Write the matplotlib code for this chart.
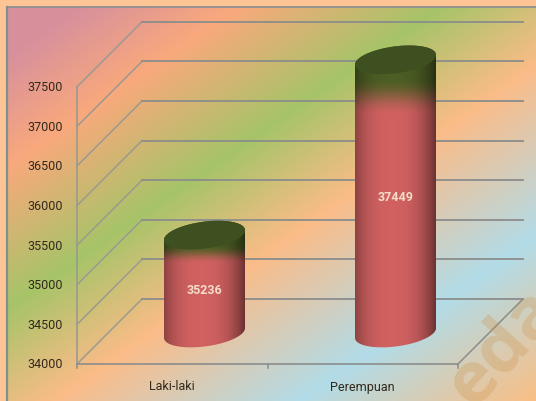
import numpy as np
import matplotlib
matplotlib.use("Agg")
import matplotlib.pyplot as plt
from matplotlib.colors import LinearSegmentedColormap
from matplotlib.patches import PathPatch, Polygon
from matplotlib.path import Path

categories = ["Laki-laki", "Perempuan"]
values = [35236, 37449]
y_ticks = [34000, 34500, 35000, 35500, 36000, 36500, 37000, 37500]

W, H = 536, 401
PX_PER_UNIT = 39.6 / 500
BASE_PX = 364


def to_val(py):
    return 34000 + (BASE_PX - py) / PX_PER_UNIT


def dy(px):
    return px / PX_PER_UNIT


font = "Roboto"
size = 9

fig = plt.figure(figsize=(W / 100, H / 100), dpi=100, facecolor="#fdc596")
ax = fig.add_axes([0, 0, 1, 1])
ax.set_xlim(0, W)
ax.set_ylim(to_val(H), to_val(0))
ax.axis("off")

# Background panel, diagonal bands
bg_cmap = LinearSegmentedColormap.from_list("bg", [
    (0.00, "#d88f9e"), (0.08, "#d8909c"), (0.22, "#f9a97c"), (0.40, "#a6c468"),
    (0.56, "#fbbc88"), (0.78, "#b2dce8"), (1.00, "#fdbd80")], N=1024)
xx, yy = np.meshgrid(np.arange(W), np.arange(H))
t = (xx * 0.57 + yy * 0.82) / 640
ax.imshow(bg_cmap(np.clip(t, 0, 1))[7:, 7:], extent=(7, W, to_val(H), to_val(7)),
          aspect="auto", zorder=0, interpolation="bilinear")
ax.plot([6.5, W], [to_val(6.5)] * 2, color="#8f9090", lw=1.3, zorder=1)
ax.plot([6.5, 6.5], [to_val(6.5), to_val(H)], color="#7f9090", lw=1.6, zorder=1)

# Watermark
ax.text(503, to_val(347), "eda", color="#c98a3c", alpha=0.25, fontsize=52, fontweight="bold",
        rotation=48, rotation_mode="anchor", ha="center", va="center", family="Open Sans",
        zorder=2.5, clip_on=True)

# 3D frame
depth_x, depth_y = 65, 65
left, right = 77, 458
line_c = "#8b8d8c"
for v in y_ticks:
    back = v + dy(depth_y)
    ax.plot([left, left + depth_x], [v, back], color="#9a9a90", lw=1.1, zorder=2)
    ax.plot([left + depth_x, right + depth_x], [back, back], color=line_c, lw=1.3, zorder=2)
ax.plot([left, left], [34000, 37500], color="#9a9a90", lw=1.2, zorder=2)
ax.plot([left, right], [34000, 34000], color=line_c, lw=1.2, zorder=2)
ax.plot([right, right + depth_x], [34000, 34000 + dy(depth_y)], color=line_c, lw=1.1, zorder=2)
for x in [left, (left + right) / 2, right]:
    ax.plot([x, x], [34000, 34000 - dy(4)], color=line_c, lw=1.1, zorder=2)

for v in y_ticks:
    ax.text(63, v - dy(1), str(v), ha="right", va="center", family=font, fontsize=size, color="#33281c")
label_x = [172, 362.5]
for x, c in zip(label_x, categories):
    ax.text(x, to_val(387), c, ha="center", va="center", family=font, fontsize=size, color="#33281c")

# Cylinders
centers = [204.5, 395.5]
half_w = 40.5
semi_b = 13.5
shear = 0.12
fade_px = [(10, 28), (18, 55)]  # green to red, px below the top centre
red = np.array([0.82, 0.38, 0.38])
green = np.array([0.30, 0.37, 0.14])
shift = dy(31)


def ellipse(cx, val, a, b):
    return (cx + half_w * np.cos(a), val + dy(b * np.sin(a) + shear * half_w * np.cos(a)))


for cx, v, fade in zip(centers, values, fade_px):
    top = v + shift
    bot = 34000 + shift
    a1 = np.linspace(0, np.pi, 60)
    a2 = np.linspace(np.pi, 2 * np.pi, 60)
    tx, ty = ellipse(cx, top, a1, semi_b)
    bx, by = ellipse(cx, bot, a2, semi_b)
    side = np.column_stack([np.r_[tx, bx], np.r_[ty, by]])

    # shaded side: dark at the edges, light just left of middle
    py = np.arange(0, H)
    px = np.linspace(-1, 1, 81)
    rows = BASE_PX - (top - 34000) * PX_PER_UNIT
    mix = np.clip((py - rows - fade[0]) / (fade[1] - fade[0]), 0, 1)
    mix = mix * mix * (3 - 2 * mix)
    col = green[None, :] * (1 - mix[:, None]) + red[None, :] * mix[:, None]
    shade = 0.52 + 0.48 * np.clip(1 - np.abs((px + 0.08) / 1.08) ** 2.6, 0, 1)
    img = col[:, None, :] * shade[None, :, None]
    im = ax.imshow(img, extent=(cx - half_w, cx + half_w, to_val(H), to_val(0)),
                   aspect="auto", zorder=3, interpolation="bilinear")
    patch = PathPatch(Path(side, closed=False), fc="none", ec="none", transform=ax.transData)
    ax.add_patch(patch)
    im.set_clip_path(patch)

    a = np.linspace(0, 2 * np.pi, 120)
    ex, ey = ellipse(cx, top, a, semi_b)
    ax.add_patch(Polygon(np.column_stack([ex, ey]), closed=True, fc="#3f5020", ec="none", zorder=4))

    ax.text(cx, 34000 + 0.53 * (v - 34000) + dy(22), str(v), ha="center", va="center", family=font,
            fontsize=size, fontweight="bold", color="#f5dcc8", zorder=5)

ax.set_xlim(0, W)
ax.set_ylim(to_val(H), to_val(0))
fig.savefig("out.png", dpi=100, facecolor=fig.get_facecolor())
